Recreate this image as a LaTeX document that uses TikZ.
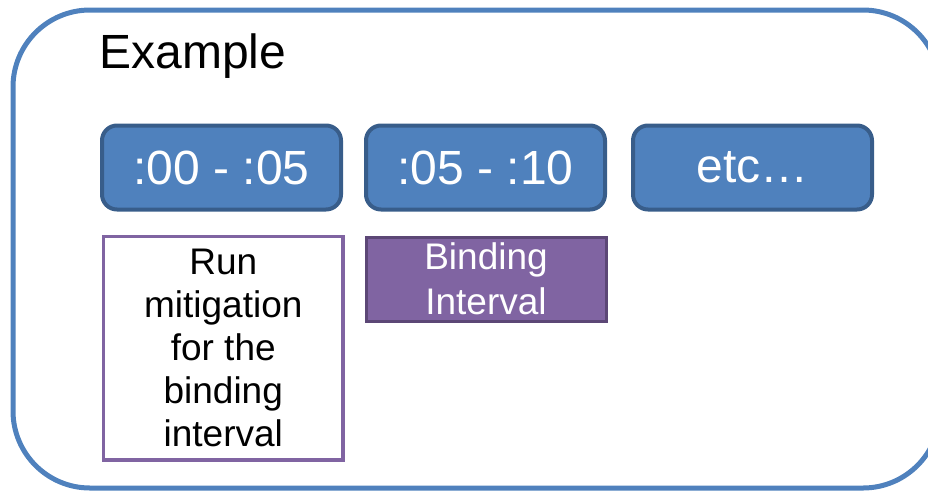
\documentclass[tikz,border=0pt]{standalone}
\usepackage{fontspec}
\setmainfont{Liberation Sans}
\usetikzlibrary{positioning}
\definecolor{slotblue}{HTML}{4F81BD}
\definecolor{slotedge}{HTML}{385D8A}
\definecolor{bindpurple}{HTML}{8064A2}
\definecolor{bindedge}{HTML}{5C4776}
\begin{document}
\begin{tikzpicture}[
        x=1pt, y=-1pt,
        node distance = 21pt,
        slot/.style    = {rectangle, draw=slotedge, fill=slotblue, line width=4pt,
                          rounded corners=15pt, minimum width=239pt, minimum height=84pt,
                          text=white, font=\fontsize{48}{52}\selectfont, inner sep=0pt},
        binding/.style = {rectangle, draw=bindedge, fill=bindpurple, line width=3pt,
                          minimum width=240pt, minimum height=84pt, inner sep=0pt,
                          text=white, align=center, font=\fontsize{37}{45}\selectfont},
        task/.style    = {rectangle, draw=bindpurple, fill=white, line width=3.5pt,
                          minimum width=239.5pt, minimum height=223.5pt, inner sep=0pt,
                          align=center, font=\fontsize{37}{43}\selectfont}
    ]
        \useasboundingbox (0,0) rectangle (928,491);
        % frame
        \draw [slotblue, line width=5pt, rounded corners=77pt] (13,10) rectangle (940,488);
        \node [anchor=base west, font=\fontsize{48}{52}\selectfont] (title) at (96,68) {Example};
        % time slots
        \node [slot] (slotA) at (221.5,167.5) {:00 - :05};
        \node [slot, right=21pt of slotA] (slotB) {:05 - :10};
        \node [slot, right=24pt of slotB] (slotC) {etc\ldots};
        % below the slots
        \node [task, anchor=north west] (run) at (101.75,234.75)
              {Run\\mitigation\\for the\\binding\\interval};
        \node [binding, anchor=north west] (bind) at (364.5,235.5) {Binding\\Interval};
    \end{tikzpicture}
\end{document}
